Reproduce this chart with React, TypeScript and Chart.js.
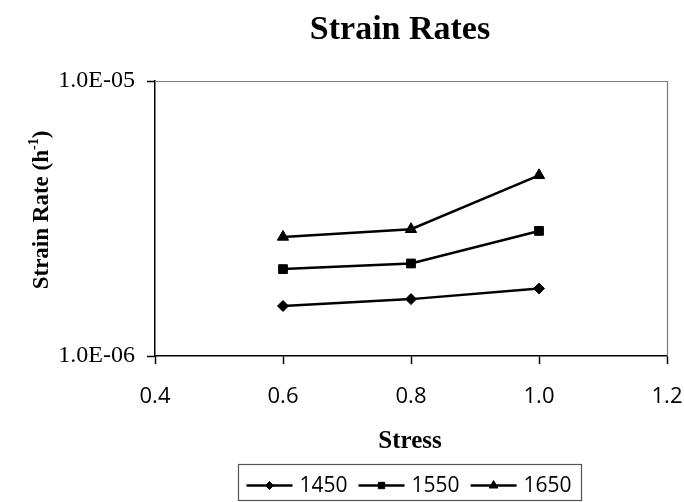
import React, { useEffect, useRef } from "react";
import { Chart, registerables } from "chart.js";

Chart.register(...registerables);

const stressValues = [0.6, 0.8, 1.0];
const seriesLabels = ["1450", "1550", "1650"];
const rate1450 = [1.52e-6, 1.61e-6, 1.76e-6];
const rate1550 = [2.07e-6, 2.17e-6, 2.85e-6];
const rate1650 = [2.71e-6, 2.89e-6, 4.54e-6];
const pointShapes = ["rectRot", "rect", "triangle"];
const pointSizes = [5.5, 6.2, 6.5];
const legendSizes = [4, 4.5, 5];
const yTickValues = [1e-6, 1e-5];

const SERIF = "'Liberation Serif', 'Times New Roman', serif";
const SANS = "'Open Sans', 'Noto Sans', sans-serif";

function drawMarker(ctx: CanvasRenderingContext2D, shape: string, r: number, x: number, y: number) {
  ctx.beginPath();
  if (shape === "rectRot") {
    ctx.moveTo(x, y - r);
    ctx.lineTo(x + r, y);
    ctx.lineTo(x, y + r);
    ctx.lineTo(x - r, y);
    ctx.closePath();
  } else if (shape === "rect") {
    const s = r * Math.SQRT1_2;
    ctx.rect(x - s, y - s, 2 * s, 2 * s);
  } else {
    const w = r * Math.sqrt(3) / 2;
    ctx.moveTo(x, y - r);
    ctx.lineTo(x + w, y + r / 2);
    ctx.lineTo(x - w, y + r / 2);
    ctx.closePath();
  }
  ctx.fill();
  ctx.stroke();
}

const decorPlugin = {
  id: "decor",
  afterDraw(chart: any) {
    const ctx = chart.ctx;
    const a = chart.chartArea;
    ctx.save();
    // frame top & right
    ctx.strokeStyle = "#7a7a7a";
    ctx.lineWidth = 1.2;
    ctx.beginPath();
    ctx.moveTo(a.left, a.top + 0.5);
    ctx.lineTo(a.right + 0.5, a.top + 0.5);
    ctx.lineTo(a.right + 0.5, a.bottom);
    ctx.stroke();

    // title
    ctx.fillStyle = "#000";
    ctx.textAlign = "center";
    ctx.textBaseline = "alphabetic";
    ctx.font = `bold 34px ${SERIF}`;
    ctx.fillText("Strain Rates", 400, 39);

    // x title
    ctx.font = `bold 25px ${SERIF}`;
    ctx.fillText("Stress", 410, 448);

    // y title rotated with superscript
    ctx.save();
    ctx.translate(48, 210);
    ctx.rotate(-Math.PI / 2);
    const mainFont = `bold 23px ${SERIF}`;
    const supFont = `bold 14px ${SERIF}`;
    ctx.font = mainFont;
    const p1 = "Strain Rate (h";
    const p3 = ")";
    const w1 = ctx.measureText(p1).width;
    const w3 = ctx.measureText(p3).width;
    ctx.font = supFont;
    const p2 = "-1";
    const w2 = ctx.measureText(p2).width;
    const total = w1 + w2 + w3;
    let x = -total / 2;
    ctx.textAlign = "left";
    ctx.font = mainFont;
    ctx.fillText(p1, x, 0);
    x += w1;
    ctx.font = supFont;
    ctx.fillText(p2, x, -10);
    x += w2;
    ctx.font = mainFont;
    ctx.fillText(p3, x, 0);
    ctx.restore();

    // legend
    ctx.strokeStyle = "#555";
    ctx.lineWidth = 1.2;
    ctx.strokeRect(238.5, 464.5, 343, 36);
    ctx.font = `21px ${SANS}`;
    ctx.textAlign = "left";
    ctx.textBaseline = "alphabetic";
    let lx = 246.5;
    const ly = 485.5;
    chart.data.datasets.forEach((ds: any, i: number) => {
      ctx.strokeStyle = "#000";
      ctx.fillStyle = "#000";
      ctx.lineWidth = 2.5;
      ctx.beginPath();
      ctx.moveTo(lx, ly);
      ctx.lineTo(lx + 46, ly);
      ctx.stroke();
      ctx.lineWidth = 1;
      drawMarker(ctx, pointShapes[i], legendSizes[i], lx + 23, ly);
      ctx.fillText(ds.label, lx + 53, 492);
      lx += 53 + ctx.measureText(ds.label).width + 11;
    });
    ctx.restore();
  },
};

export default function App() {
  const ref = useRef<HTMLCanvasElement>(null);
  useEffect(() => {
    if (!ref.current) return;
    const allRates = [rate1450, rate1550, rate1650];
    const chart = new Chart(ref.current, {
      type: "line",
      data: {
        datasets: allRates.map((rates, i) => ({
          label: seriesLabels[i],
          data: stressValues.map((s, j) => ({ x: s, y: rates[j] })),
          borderColor: "#000",
          backgroundColor: "#000",
          borderWidth: 2.5,
          pointStyle: pointShapes[i] as any,
          pointRadius: pointSizes[i],
          pointBackgroundColor: "#000",
          pointBorderColor: "#000",
          pointBorderWidth: 1,
          tension: 0,
          fill: false,
        })),
      },
      options: {
        responsive: false,
        animation: false,
        devicePixelRatio: 1,
        layout: { padding: { top: 81, right: 17, left: 0, bottom: 0 } },
        plugins: {
          legend: { display: false },
          title: { display: false },
          tooltip: { enabled: false },
        },
        scales: {
          x: {
            type: "linear",
            min: 0.4,
            max: 1.2,
            afterFit: (scale: any) => {
              scale.height = 146;
              scale.paddingLeft = 0;
              scale.paddingRight = 0;
            },
            ticks: {
              stepSize: 0.2,
              color: "#000",
              font: { family: SANS, size: 22 },
              padding: 20,
              maxRotation: 0,
              callback: (v: any) => Number(v).toFixed(1),
            },
            grid: {
              drawOnChartArea: false,
              drawTicks: true,
              tickLength: 8,
              tickWidth: 1.5,
              tickColor: "#000",
            },
            border: { display: true, color: "#000", width: 1.5 },
          },
          y: {
            type: "logarithmic",
            min: 1e-6,
            max: 1e-5,
            afterFit: (scale: any) => {
              scale.width = 155;
              scale.paddingTop = 0;
              scale.paddingBottom = 0;
            },
            afterBuildTicks: (scale: any) => {
              scale.ticks = yTickValues.map((v) => ({ value: v }));
            },
            ticks: {
              color: "#000",
              font: { family: SERIF, size: 24 },
              padding: 12,
              autoSkip: false,
              callback: (v: any) => {
                const n = Number(v);
                const exp = Math.round(Math.log10(n));
                const mant = n / Math.pow(10, exp);
                const e = Math.abs(exp);
                return `${mant.toFixed(1)}E${exp < 0 ? "-" : "+"}${e < 10 ? "0" + e : e}`;
              },
            },
            grid: {
              drawOnChartArea: false,
              drawTicks: true,
              tickLength: 8,
              tickWidth: 1.5,
              tickColor: "#000",
            },
            border: { display: true, color: "#000", width: 1.5 },
          },
        },
      },
      plugins: [decorPlugin],
    });
    return () => chart.destroy();
  }, []);
  return (
    <div style={{ position: "fixed", left: 0, top: 0, width: 684, height: 502, background: "#fff" }}>
      <canvas ref={ref} width={684} height={502} style={{ width: 684, height: 502 }} />
    </div>
  );
}
